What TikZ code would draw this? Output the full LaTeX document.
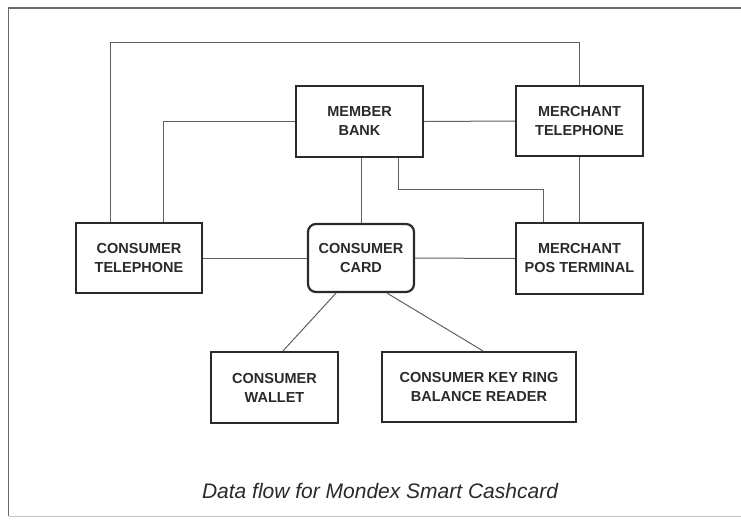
\documentclass[tikz,border=0pt]{standalone}
\usepackage{fontspec}
\setmainfont{Liberation Sans}
\usetikzlibrary{calc}
\definecolor{ink}{HTML}{2A2A2A}
\definecolor{wire}{HTML}{606060}
\definecolor{frame}{HTML}{6A6A6A}
\begin{document}
\begin{tikzpicture}[x=1pt,y=-1pt,
  box/.style={draw=ink, line width=2.2pt, fill=white, text=ink, align=center,
    font=\bfseries\fontsize{14.5}{19}\selectfont, inner sep=0pt},
  wireline/.style={draw=wire, line width=1pt},
  caption/.style={text=ink, font=\itshape\fontsize{21}{25}\selectfont}]
\useasboundingbox (0,0) rectangle (741,520);
\fill[white] (0,0) rectangle (741,520);
% frame
\draw[frame, line width=1.4pt] (741,8) -- (8.5,8) -- (8.5,516);
\draw[frame!40, line width=1pt] (8.5,516) -- (741,516);

% nodes
\node[box, minimum width=127, minimum height=71] (bank) at (359.5,121.5) {MEMBER\\BANK};
\node[box, minimum width=127, minimum height=70] (mtel) at (579.5,121) {MERCHANT\\TELEPHONE};
\node[box, minimum width=126, minimum height=70] (ctel) at (139,258) {CONSUMER\\TELEPHONE};
\node[box, minimum width=106, minimum height=68, rounded corners=8pt] (card) at (361,258) {CONSUMER\\CARD};
\node[box, minimum width=127, minimum height=71] (pos) at (579.5,258.5) {MERCHANT\\POS TERMINAL};
\node[box, minimum width=127, minimum height=71] (wallet) at (274.5,387.5) {CONSUMER\\WALLET};
\node[box, minimum width=194, minimum height=70] (key) at (479,387) {CONSUMER KEY RING\\BALANCE READER};
\node[caption] (cap) at (380,491) {Data flow for Mondex Smart Cashcard};

% helper coordinates
\coordinate (toprail) at (0,42);
\coordinate (midrail) at (0,189);
\coordinate (ctelA) at ([xshift=-29pt]ctel.north);
\coordinate (ctelB) at ([xshift=24pt]ctel.north);
\coordinate (bankB) at ([xshift=38.5pt]bank.south);
\coordinate (posA) at ([xshift=-36.5pt]pos.north);

% connectors
\draw[wireline] (ctelA) |- (toprail -| mtel.north) -- (mtel.north);
\draw[wireline] (bank.west) -| (ctelB);
\draw[wireline] (bank.east) -- (mtel.west);
\draw[wireline] (card.north |- bank.south) -- (card.north);
\draw[wireline] (bankB) |- (midrail -| posA) -- (posA);
\draw[wireline] (mtel.south) -- (pos.north);
\draw[wireline] (ctel.east) -- (card.west);
\draw[wireline] (card.east) -- (pos.west);
\draw[wireline] ([xshift=-25pt]card.south) -- ([xshift=8.5pt]wallet.north);
\draw[wireline] ([xshift=26pt]card.south) -- ([xshift=4pt]key.north);
\end{tikzpicture}
\end{document}
